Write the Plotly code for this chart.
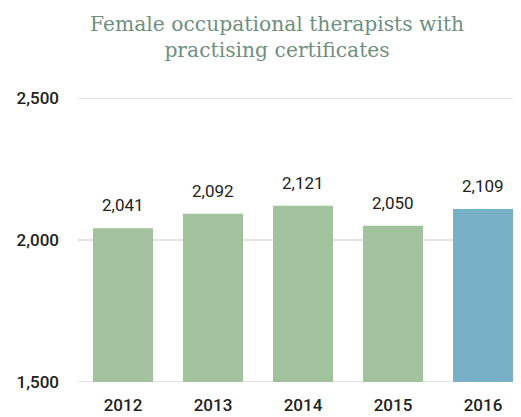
import plotly.graph_objects as go

years = ["2012", "2013", "2014", "2015", "2016"]
values = [2041, 2092, 2121, 2050, 2109]
bar_colors = ["#a1c29d", "#a1c29d", "#a1c29d", "#a1c29d", "#77b0c7"]
y_ticks = [1500, 2000, 2500]
y_tick_labels = ["1,500", "2,000", "2,500"]
title_text = "Female occupational therapists with<br>practising certificates"

W, H = 513, 409

fig = go.Figure()
fig.add_trace(go.Bar(x=years, y=values, marker=dict(color=bar_colors, line=dict(width=0)),
                     cliponaxis=False, hoverinfo="skip"))

for i, v in enumerate(values):
    fig.add_annotation(x=i, y=v, text=f"{v:,}", showarrow=False, yanchor="bottom",
                       yshift=11, font=dict(family="Roboto", size=17, color="#222222"))

for t in y_ticks:
    fig.add_shape(type="line", xref="paper", yref="y", x0=0, x1=1, y0=t, y1=t,
                  line=dict(color="#e3e3e3", width=2), layer="below")

fig.add_annotation(text=title_text, xref="paper", yref="paper", x=(277 - 8 - 70) / (W - 70),
                   y=1, yshift=88, yanchor="top", xanchor="center", showarrow=False,
                   font=dict(family="DejaVu Serif", size=20.3, color="#6f8f80"))

fig.update_layout(
    width=W, height=H,
    margin=dict(l=70, r=0, t=90, b=35),
    paper_bgcolor="white", plot_bgcolor="white",
    bargap=1/3,
    showlegend=False,
    xaxis=dict(type="category", range=[-0.5, 4.422], showgrid=False, zeroline=False,
               showline=False, ticks="", ticklabelstandoff=11,
               tickfont=dict(family="Roboto", size=17, color="#222222", weight=500)),
    yaxis=dict(range=[1500, 2500], tickvals=y_ticks, ticktext=y_tick_labels,
               showgrid=False, zeroline=False,
               showline=False, ticks="", ticklabelstandoff=18,
               tickfont=dict(family="Roboto", size=17, color="#222222", weight=500)),
)

fig.write_html("out.html")
